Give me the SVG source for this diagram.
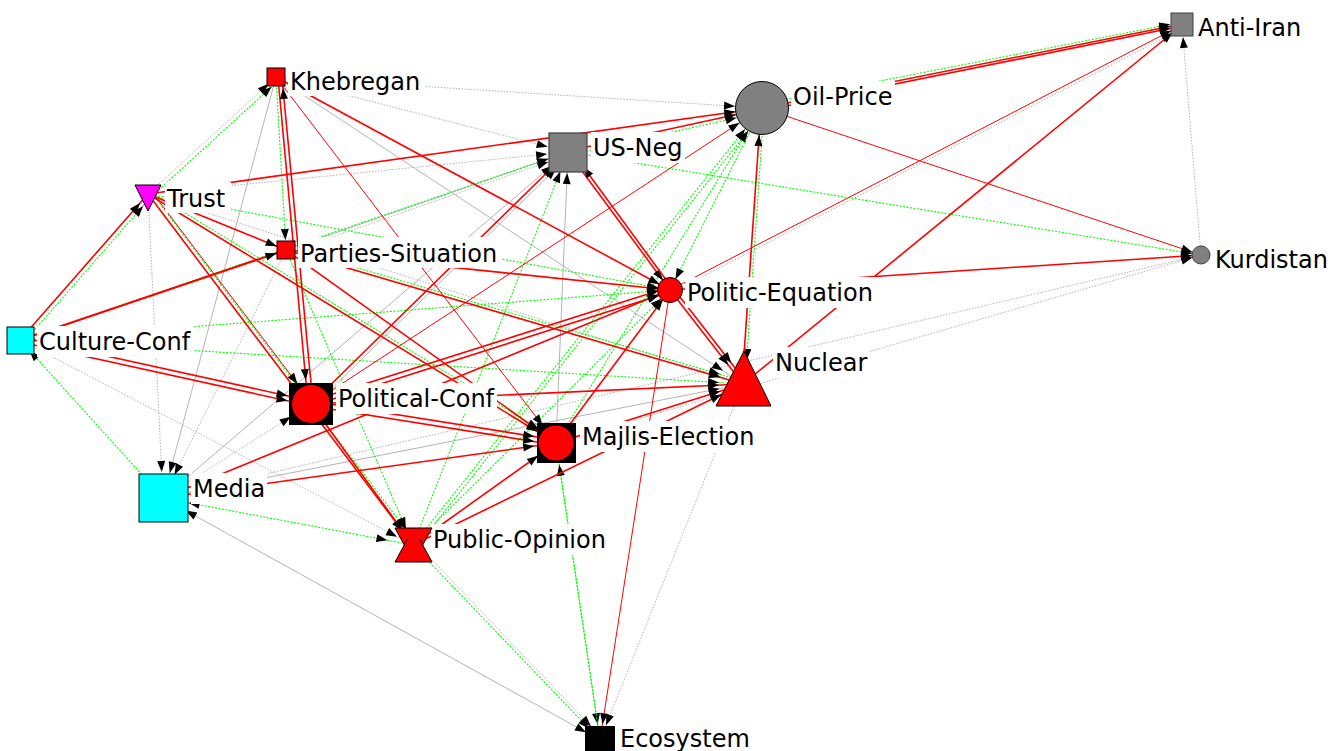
<svg xmlns="http://www.w3.org/2000/svg" width="1340" height="751" viewBox="0 0 1340 751">
<style>
line{fill:none}
.R{stroke:#ff0000;stroke-width:1.6}
.r{stroke:#ff0000;stroke-width:1}
.G{stroke:#00ff00;stroke-width:1.1;stroke-dasharray:2 1.5}
.g{stroke:#b4b4b4;stroke-width:1}
.d{stroke:#b4b4b4;stroke-width:1;stroke-dasharray:1.5 1.5}
.lbl{font-family:"DejaVu Sans",Verdana,sans-serif;font-size:24px;fill:#000}
.bg{fill:#fff}
.tK{marker-end:url(#a10)}
.tT{marker-end:url(#a12)}
.tPS{marker-end:url(#a10)}
.tUSN{marker-end:url(#a21)}
.tOP{marker-end:url(#a27)}
.tAI{marker-end:url(#a12)}
.tKU{marker-end:url(#a9)}
.tPE{marker-end:url(#a12)}
.tN{marker-end:url(#a24)}
.tCC{marker-end:url(#a14)}
.tPC{marker-end:url(#a24)}
.tME{marker-end:url(#a22)}
.tM{marker-end:url(#a26)}
.tPO{marker-end:url(#a18)}
.tE{marker-end:url(#a16)}
.sM{marker-start:url(#s26)}
.sE{marker-start:url(#s16)}
.nd{stroke:#000;stroke-width:1}
</style>
<defs>
<marker id="a9" markerUnits="userSpaceOnUse" markerWidth="11" markerHeight="8" refX="20" refY="4" orient="auto" overflow="visible"><path d="M0,0 L11,4 L0,8 z" fill="#000"/></marker>
<marker id="a10" markerUnits="userSpaceOnUse" markerWidth="11" markerHeight="8" refX="21" refY="4" orient="auto" overflow="visible"><path d="M0,0 L11,4 L0,8 z" fill="#000"/></marker>
<marker id="a12" markerUnits="userSpaceOnUse" markerWidth="11" markerHeight="8" refX="23" refY="4" orient="auto" overflow="visible"><path d="M0,0 L11,4 L0,8 z" fill="#000"/></marker>
<marker id="a14" markerUnits="userSpaceOnUse" markerWidth="11" markerHeight="8" refX="25" refY="4" orient="auto" overflow="visible"><path d="M0,0 L11,4 L0,8 z" fill="#000"/></marker>
<marker id="a16" markerUnits="userSpaceOnUse" markerWidth="11" markerHeight="8" refX="27" refY="4" orient="auto" overflow="visible"><path d="M0,0 L11,4 L0,8 z" fill="#000"/></marker>
<marker id="a18" markerUnits="userSpaceOnUse" markerWidth="11" markerHeight="8" refX="29" refY="4" orient="auto" overflow="visible"><path d="M0,0 L11,4 L0,8 z" fill="#000"/></marker>
<marker id="a21" markerUnits="userSpaceOnUse" markerWidth="11" markerHeight="8" refX="32" refY="4" orient="auto" overflow="visible"><path d="M0,0 L11,4 L0,8 z" fill="#000"/></marker>
<marker id="a22" markerUnits="userSpaceOnUse" markerWidth="11" markerHeight="8" refX="33" refY="4" orient="auto" overflow="visible"><path d="M0,0 L11,4 L0,8 z" fill="#000"/></marker>
<marker id="a24" markerUnits="userSpaceOnUse" markerWidth="11" markerHeight="8" refX="35" refY="4" orient="auto" overflow="visible"><path d="M0,0 L11,4 L0,8 z" fill="#000"/></marker>
<marker id="a26" markerUnits="userSpaceOnUse" markerWidth="11" markerHeight="8" refX="37" refY="4" orient="auto" overflow="visible"><path d="M0,0 L11,4 L0,8 z" fill="#000"/></marker>
<marker id="a27" markerUnits="userSpaceOnUse" markerWidth="11" markerHeight="8" refX="38" refY="4" orient="auto" overflow="visible"><path d="M0,0 L11,4 L0,8 z" fill="#000"/></marker>
<marker id="s26" markerUnits="userSpaceOnUse" markerWidth="11" markerHeight="8" refX="37" refY="4" orient="auto-start-reverse" overflow="visible"><path d="M0,0 L11,4 L0,8 z" fill="#000"/></marker>
<marker id="s16" markerUnits="userSpaceOnUse" markerWidth="11" markerHeight="8" refX="27" refY="4" orient="auto-start-reverse" overflow="visible"><path d="M0,0 L11,4 L0,8 z" fill="#000"/></marker>
</defs>
<rect width="1340" height="751" fill="#fff"/>
<g id="connectors">
<line class="d tKU" x1="556" y1="443" x2="1201" y2="255"/>
<line class="d tKU" x1="163" y1="498" x2="1201" y2="255"/>
<line class="d tAI" x1="1201" y1="255" x2="1182" y2="25"/>
<line class="d tOP" x1="276" y1="77" x2="762" y2="108"/>
<line class="d tUSN" x1="276" y1="77" x2="568" y2="152"/>
<line class="g tN" x1="276" y1="77" x2="743" y2="384"/>
<line class="g tM" x1="276" y1="77" x2="163" y2="498"/>
<line class="d tK" x1="148" y1="194" x2="276" y2="77"/>
<line class="d tM" x1="148" y1="194" x2="163" y2="498"/>
<line class="d tUSN" x1="148" y1="194" x2="568" y2="152"/>
<line class="d tN" x1="148" y1="194" x2="743" y2="384"/>
<line class="d tPO" x1="20" y1="340" x2="413" y2="545"/>
<line class="g tN" x1="163" y1="498" x2="743" y2="384"/>
<line class="g tUSN" x1="163" y1="498" x2="568" y2="152"/>
<line class="d tPC" x1="163" y1="498" x2="311" y2="404"/>
<line class="d tM" x1="286" y1="250" x2="163" y2="498"/>
<line class="g tM sE" x1="600" y1="740" x2="163" y2="498"/>
<line class="g tUSN" x1="286" y1="250" x2="568" y2="152"/>
<line class="d tUSN" x1="286" y1="253" x2="568" y2="155"/>
<line class="g tUSN" x1="314" y1="406" x2="571" y2="154"/>
<line class="g tUSN" x1="556" y1="443" x2="568" y2="152"/>
<line class="d tE" x1="743" y1="384" x2="600" y2="740"/>
<line class="d tE" x1="416" y1="543" x2="602" y2="738"/>
<line class="d tAI" x1="671" y1="293" x2="1183" y2="28"/>

<line class="G tAI" x1="762" y1="104" x2="1182" y2="22"/>
<line class="G tKU" x1="568" y1="152" x2="1201" y2="255"/>
<line class="G tOP" x1="569" y1="155" x2="763" y2="112"/>
<line class="G tPS" x1="276" y1="77" x2="286" y2="250"/>
<line class="G tK" x1="151" y1="197" x2="279" y2="80"/>
<line class="G tT" x1="23" y1="343" x2="151" y2="197"/>
<line class="G tPO" x1="151" y1="192" x2="416" y2="543"/>
<line class="G tME" x1="149" y1="191" x2="557" y2="440"/>
<line class="G tPE" x1="148" y1="194" x2="670" y2="290"/>
<line class="G tPE" x1="20" y1="340" x2="670" y2="290"/>
<line class="G tN" x1="20" y1="340" x2="743" y2="384"/>
<line class="G tUSN" x1="20" y1="340" x2="568" y2="152"/>
<line class="G tCC" x1="163" y1="498" x2="20" y2="340"/>
<line class="G tM sM" x1="413" y1="545" x2="163" y2="498"/>
<line class="G tN" x1="286" y1="247" x2="743" y2="381"/>
<line class="G tPO" x1="286" y1="250" x2="413" y2="545"/>
<line class="G tUSN" x1="413" y1="545" x2="568" y2="152"/>
<line class="G tOP" x1="413" y1="545" x2="762" y2="108"/>
<line class="G tOP" x1="417" y1="546" x2="765" y2="110"/>
<line class="G tOP" x1="556" y1="443" x2="762" y2="108"/>
<line class="G tPE" x1="762" y1="108" x2="670" y2="290"/>
<line class="G tN" x1="764" y1="108" x2="745" y2="384"/>
<line class="G tE" x1="556" y1="443" x2="600" y2="740"/>
<line class="G tME" x1="600" y1="740" x2="556" y2="443"/>
<line class="G tE" x1="413" y1="545" x2="600" y2="740"/>
<line class="G tPE" x1="413" y1="545" x2="670" y2="290"/>

<line class="R tAI" x1="762" y1="111" x2="1182" y2="26"/>
<line class="R tAI" x1="762" y1="108" x2="1182" y2="24"/>
<line class="r tAI" x1="670" y1="290" x2="1182" y2="25"/>
<line class="R tAI" x1="743" y1="384" x2="1182" y2="25"/>
<line class="r tKU" x1="762" y1="108" x2="1201" y2="255"/>
<line class="R tKU" x1="670" y1="290" x2="1201" y2="255"/>
<line class="R tOP" x1="568" y1="151" x2="762" y2="109"/>
<line class="R tOP" x1="148" y1="194" x2="762" y2="108"/>
<line class="R tPE" x1="276" y1="77" x2="670" y2="290"/>
<line class="r tME" x1="276" y1="77" x2="556" y2="443"/>
<line class="R tPC" x1="278" y1="78" x2="308" y2="404"/>
<line class="R tK" x1="313" y1="404" x2="282" y2="78"/>
<line class="R tPS" x1="148" y1="194" x2="286" y2="250"/>
<line class="R tT" x1="20" y1="340" x2="148" y2="194"/>
<line class="R tPO" x1="148" y1="194" x2="413" y2="545"/>
<line class="r tPC" x1="152" y1="192" x2="312" y2="403"/>
<line class="R tME" x1="148" y1="194" x2="556" y2="443"/>
<line class="R tPS" x1="20" y1="340" x2="286" y2="250" style="stroke-width:2"/>
<line class="R tPC" x1="20" y1="337" x2="311" y2="401"/>
<line class="R tPC" x1="20" y1="342" x2="311" y2="406"/>
<line class="R tPE" x1="163" y1="498" x2="670" y2="290"/>
<line class="R tME" x1="163" y1="498" x2="556" y2="443"/>
<line class="R tPE" x1="286" y1="250" x2="670" y2="290"/>
<line class="R tN" x1="286" y1="250" x2="743" y2="384"/>
<line class="R tME" x1="286" y1="250" x2="556" y2="443"/>
<line class="R tPE" x1="311" y1="401" x2="670" y2="287"/>
<line class="R tPE" x1="311" y1="406" x2="670" y2="292"/>
<line class="R tN" x1="311" y1="404" x2="743" y2="384"/>
<line class="R tME" x1="311" y1="401" x2="556" y2="440"/>
<line class="R tME" x1="311" y1="406" x2="556" y2="445"/>
<line class="R tUSN" x1="311" y1="404" x2="568" y2="152"/>
<line class="r tOP" x1="311" y1="404" x2="762" y2="108"/>
<line class="R tPO" x1="311" y1="404" x2="413" y2="545"/>
<line class="R tPE" x1="568" y1="152" x2="670" y2="290"/>
<line class="R tUSN" x1="672" y1="288" x2="571" y2="150"/>
<line class="R tOP" x1="742" y1="384" x2="761" y2="108"/>
<line class="R tN" x1="670" y1="290" x2="743" y2="384"/>
<line class="R tN" x1="673" y1="288" x2="746" y2="382"/>
<line class="R tN" x1="556" y1="443" x2="743" y2="384"/>
<line class="R tPE" x1="556" y1="443" x2="670" y2="290"/>
<line class="r tE" x1="670" y1="290" x2="600" y2="740"/>
<line class="R tME" x1="413" y1="545" x2="556" y2="443"/>
<line class="R tN" x1="413" y1="545" x2="743" y2="384"/>
</g>

<g id="node-khebregan">
<rect class="bg" x="288" y="65" width="136" height="31"/>
<text class="lbl" x="290" y="90">Khebregan</text>
<rect class="nd" x="267" y="68" width="18" height="18" fill="#ff0000"/>
</g>
<g id="node-trust">
<rect class="bg" x="165" y="182" width="66" height="31"/>
<text class="lbl" x="167" y="207">Trust</text>
<polygon class="nd" points="135,185 161,185 148,211" fill="#ff00ff"/>
</g>
<g id="node-parties-situation">
<rect class="bg" x="298" y="237" width="203" height="31"/>
<text class="lbl" x="300" y="262">Parties-Situation</text>
<rect class="nd" x="277" y="241" width="18" height="18" fill="#ff0000"/>
</g>
<g id="node-us-neg">
<rect class="bg" x="591" y="132" width="94" height="31"/>
<text class="lbl" x="593" y="156">US-Neg</text>
<rect x="549" y="133" width="38" height="39" fill="#808080" stroke="#404040" stroke-width="1.2"/>
</g>
<g id="node-oil-price">
<rect class="bg" x="791" y="81" width="104" height="31"/>
<text class="lbl" x="793" y="105">Oil-Price</text>
<circle class="nd" cx="762" cy="108" r="26.5" fill="#808080"/>
</g>
<g id="node-anti-iran">
<rect class="bg" x="1196" y="12" width="108" height="31"/>
<text class="lbl" x="1198" y="36">Anti-Iran</text>
<rect x="1171" y="13" width="22" height="23" fill="#808080" stroke="#404040" stroke-width="1"/>
</g>
<g id="node-kurdistan">
<rect class="bg" x="1213" y="244" width="119" height="31"/>
<text class="lbl" x="1215" y="268">Kurdistan</text>
<circle cx="1201" cy="255" r="9" fill="#808080" stroke="#404040" stroke-width="1"/>
</g>
<g id="node-politic-equation">
<rect class="bg" x="685" y="277" width="191" height="31"/>
<text class="lbl" x="687" y="301">Politic-Equation</text>
<circle class="nd" cx="670" cy="290" r="12.5" fill="#ff0000"/>
</g>
<g id="node-nuclear">
<rect class="bg" x="773" y="347" width="96" height="31"/>
<text class="lbl" x="775" y="371">Nuclear</text>
<polygon class="nd" points="744,351 771,406 716,406" fill="#ff0000"/>
</g>
<g id="node-culture-conf">
<rect class="bg" x="37" y="326" width="156" height="31"/>
<text class="lbl" x="39" y="350">Culture-Conf</text>
<rect class="nd" x="7" y="327" width="27" height="27" fill="#00ffff"/>
</g>
<g id="node-political-conf">
<rect class="bg" x="336" y="383" width="161" height="31"/>
<text class="lbl" x="338" y="407">Political-Conf</text>
<rect x="289" y="383" width="44" height="42" fill="#000"/>
<circle cx="311" cy="404" r="19" fill="#ff0000"/>
</g>
<g id="node-majlis-election">
<rect class="bg" x="580" y="421" width="176" height="31"/>
<text class="lbl" x="582" y="445">Majlis-Election</text>
<rect x="537" y="423" width="39" height="40" fill="#000"/>
<circle cx="556" cy="443" r="17.5" fill="#ff0000"/>
</g>
<g id="node-media">
<rect class="bg" x="191" y="473" width="76" height="31"/>
<text class="lbl" x="193" y="497">Media</text>
<rect class="nd" x="139" y="474" width="49" height="48" fill="#00ffff"/>
</g>
<g id="node-public-opinion">
<rect class="bg" x="431" y="524" width="177" height="31"/>
<text class="lbl" x="433" y="548">Public-Opinion</text>
<polygon class="nd" points="395,528 432,528 413.5,562" fill="#ff0000"/>
<polygon class="nd" points="395,562 432,562 413.5,528" fill="#ff0000"/>
<polygon points="397,529 430,529 413.5,545" fill="#ff0000"/>
</g>
<g id="node-ecosystem">
<rect class="bg" x="618" y="724" width="134" height="27"/>
<text class="lbl" x="620" y="747">Ecosystem</text>
<rect x="585" y="726" width="30" height="26" fill="#000"/>
</g>
</svg>
